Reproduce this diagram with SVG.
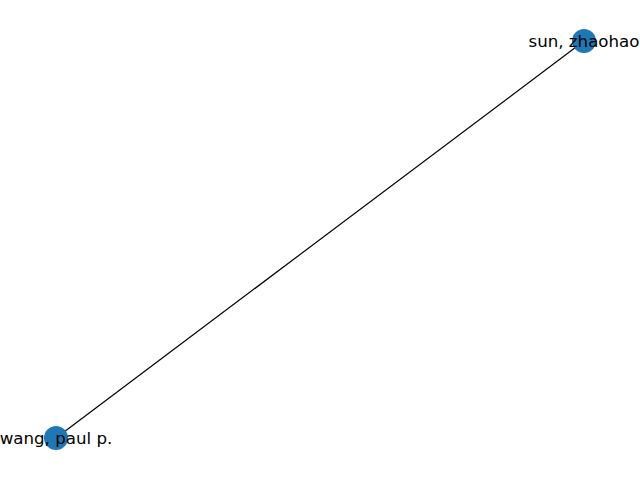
<svg xmlns="http://www.w3.org/2000/svg" width="640" height="480" viewBox="0 0 640 480">
<style>
.node{fill:#1f77b4}
.lbl{font-family:"DejaVu Sans",sans-serif;font-size:16.67px;fill:#000;text-anchor:middle;dominant-baseline:central}
.edge{stroke:#000;stroke-width:1.2;fill:none}
</style>
<rect width="640" height="480" fill="#fff"/>
<g id="edges">
<line class="edge" x1="584" y1="41" x2="56" y2="438"/>
</g>
<g id="node-sun">
<circle class="node" cx="584" cy="41" r="12"/>
<text class="lbl" x="584" y="41">sun, zhaohao</text>
</g>
<g id="node-wang">
<circle class="node" cx="56" cy="438" r="12"/>
<text class="lbl" x="56" y="438">wang, paul p.</text>
</g>
</svg>
